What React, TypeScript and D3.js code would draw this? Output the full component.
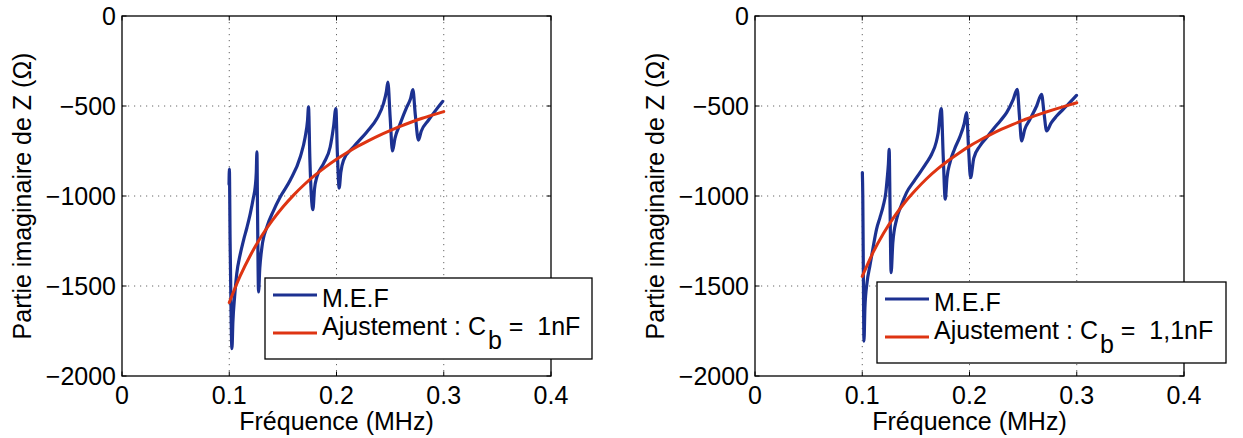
import React from "react";
import * as d3 from "d3";

const xTicks = [0, 0.1, 0.2, 0.3, 0.4];
const yTicks = [0, -500, -1000, -1500, -2000];
const xTickLabels = ["0", "0.1", "0.2", "0.3", "0.4"];
const yTickLabels = ["0", "\u2212500", "\u22121000", "\u22121500", "\u22122000"];

const xLabel = "Fréquence (MHz)";
const yLabel = "Partie imaginaire de Z (Ω)";
const seriesNames = ["M.E.F", "Ajustement : C"];
const capLeft = "1nF";
const capRight = "1,1nF";

// Left panel — M.E.F
const fMefLeft = [0.0998, 0.1001, 0.1008, 0.1018, 0.1025, 0.1034, 0.105, 0.107, 0.11, 0.1133, 0.1165, 0.1196, 0.1225, 0.1242, 0.1252, 0.1258, 0.1264, 0.1273, 0.1285, 0.1305, 0.1351, 0.141, 0.1475, 0.1568, 0.1662, 0.1708, 0.173, 0.1739, 0.1752, 0.178, 0.1795, 0.1817, 0.1879, 0.1941, 0.1972, 0.1994, 0.2008, 0.2025, 0.204, 0.2065, 0.2158, 0.2283, 0.2377, 0.2438, 0.2465, 0.2479, 0.25, 0.2522, 0.2545, 0.2594, 0.2656, 0.269, 0.2712, 0.2735, 0.2764, 0.279, 0.2857, 0.293, 0.299];
const zMefLeft = [-935, -850, -1250, -1700, -1848, -1700, -1560, -1431, -1330, -1246, -1175, -1098, -1010, -950, -870, -755, -1100, -1533, -1400, -1283, -1172, -1085, -1006, -913, -783, -672, -580, -505, -800, -1076, -960, -894, -820, -728, -617, -514, -760, -956, -870, -802, -728, -644, -570, -487, -420, -367, -560, -750, -680, -598, -505, -460, -409, -550, -690, -640, -579, -520, -475];

// Right panel — M.E.F
const fMefRight = [0.1001, 0.1005, 0.101, 0.1016, 0.1025, 0.1045, 0.1071, 0.11, 0.1133, 0.1165, 0.1195, 0.122, 0.1232, 0.1244, 0.1251, 0.1259, 0.1269, 0.1285, 0.132, 0.1365, 0.1413, 0.148, 0.1538, 0.16, 0.1647, 0.169, 0.1708, 0.1737, 0.1755, 0.1774, 0.179, 0.1818, 0.186, 0.1911, 0.195, 0.1973, 0.199, 0.201, 0.204, 0.2097, 0.216, 0.2221, 0.229, 0.2346, 0.2408, 0.2445, 0.2465, 0.2486, 0.2515, 0.2564, 0.2626, 0.2672, 0.2695, 0.2719, 0.276, 0.2812, 0.2905, 0.2998];
const zMefRight = [-870, -1000, -1400, -1806, -1620, -1480, -1389, -1290, -1185, -1120, -1056, -980, -907, -820, -741, -1050, -1426, -1260, -1130, -1050, -981, -920, -870, -815, -768, -700, -648, -514, -780, -1018, -900, -814, -740, -670, -600, -537, -720, -898, -790, -722, -675, -629, -580, -537, -463, -407, -550, -694, -630, -574, -500, -435, -540, -639, -595, -556, -500, -441];

// Fits
const fFit = [0.1, 0.11, 0.12, 0.13, 0.14, 0.15, 0.16, 0.17, 0.18, 0.19, 0.2, 0.21, 0.22, 0.23, 0.24, 0.25, 0.26, 0.27, 0.28, 0.29, 0.3];
const zFitLeft = [-1592, -1447, -1326, -1224, -1137, -1061, -995, -936, -884, -838, -796, -758, -723, -692, -663, -637, -612, -589, -568, -549, -531];
const zFitRight = [-1447, -1315, -1206, -1113, -1033, -965, -904, -851, -804, -762, -723, -689, -658, -629, -603, -579, -556, -536, -517, -499, -482];

const BLUE = "#1c3191";
const RED = "#de3412";
const FONT = "'Liberation Sans', Arial, Helvetica, sans-serif";
const FS = 25;

type PanelProps = {
  x0: number;
  fMef: number[];
  zMef: number[];
  zFit: number[];
  cap: string;
  legend: { x: number; y: number; w: number; h: number };
};

function Panel({ x0, fMef, zMef, zFit, cap, legend }: PanelProps) {
  const top = 16;
  const bottom = 376;
  const width = 429;
  const x = d3.scaleLinear().domain([0, 0.4]).range([x0, x0 + width]);
  const y = d3.scaleLinear().domain([-2000, 0]).range([bottom, top]);
  const line = d3
    .line<[number, number]>()
    .x((d) => x(d[0]))
    .y((d) => y(d[1]))
    .curve(d3.curveMonotoneX);
  const mef = line(fMef.map((f, i) => [f, zMef[i]] as [number, number])) || "";
  const fit = line(fFit.map((f, i) => [f, zFit[i]] as [number, number])) || "";
  const tl = 4.5;
  const lx = legend.x;
  const ly = legend.y;
  return (
    <g fontFamily={FONT} fontSize={FS} fill="#000">
      {/* grid */}
      {xTicks.slice(1, -1).map((t) => (
        <line key={"gx" + t} x1={x(t)} x2={x(t)} y1={top} y2={bottom} stroke="#666" strokeWidth={1} strokeDasharray="1.2 4.8" />
      ))}
      {yTicks.slice(1, -1).map((t) => (
        <line key={"gy" + t} x1={x0} x2={x0 + width} y1={y(t)} y2={y(t)} stroke="#666" strokeWidth={1} strokeDasharray="1.2 4.8" />
      ))}
      {/* tick marks */}
      {xTicks.map((t) => (
        <g key={"tx" + t}>
          <line x1={x(t)} x2={x(t)} y1={bottom} y2={bottom - tl} stroke="#000" strokeWidth={1} />
          <line x1={x(t)} x2={x(t)} y1={top} y2={top + tl} stroke="#000" strokeWidth={1} />
        </g>
      ))}
      {yTicks.map((t) => (
        <g key={"ty" + t}>
          <line x1={x0} x2={x0 + tl} y1={y(t)} y2={y(t)} stroke="#000" strokeWidth={1} />
          <line x1={x0 + width} x2={x0 + width - tl} y1={y(t)} y2={y(t)} stroke="#000" strokeWidth={1} />
        </g>
      ))}
      {/* data */}
      <path d={mef} fill="none" stroke={BLUE} strokeWidth={3.2} strokeLinejoin="round" strokeLinecap="round" />
      <path d={fit} fill="none" stroke={RED} strokeWidth={3} strokeLinejoin="round" strokeLinecap="round" />
      {/* box */}
      <rect x={x0} y={top} width={width} height={bottom - top} fill="none" stroke="#000" strokeWidth={1.3} />
      {/* tick labels */}
      {xTicks.map((t, i) => (
        <text key={"lx" + t} x={x(t)} y={bottom + 28} textAnchor="middle">
          {xTickLabels[i]}
        </text>
      ))}
      {yTicks.map((t, i) => (
        <text key={"ly" + t} x={x0 - 6} y={y(t) + 9} textAnchor="end">
          {yTickLabels[i]}
        </text>
      ))}
      {/* axis labels */}
      <text x={x0 + width / 2} y={430} textAnchor="middle">
        {xLabel}
      </text>
      <text transform={`translate(${x0 - 91},${(top + bottom) / 2}) rotate(-90)`} textAnchor="middle">
        {yLabel}
      </text>
      {/* legend */}
      <rect x={lx} y={ly} width={legend.w} height={legend.h} fill="#fff" stroke="#000" strokeWidth={1.3} />
      <line x1={lx + 8} x2={lx + 52} y1={ly + 17} y2={ly + 17} stroke={BLUE} strokeWidth={3} />
      <line x1={lx + 8} x2={lx + 52} y1={ly + 55} y2={ly + 55} stroke={RED} strokeWidth={3} />
      <text x={lx + 57} y={ly + 28.5}>
        {seriesNames[0]}
      </text>
      <text x={lx + 57} y={ly + 57}>
        {seriesNames[1]}
        <tspan dx={2} dy={14}>b</tspan>
        <tspan dy={-14}>{"\u00A0=\u00A0\u00A0" + cap}</tspan>
      </text>
    </g>
  );
}

export default function App() {
  return (
    <svg
      width={1243}
      height={438}
      viewBox="0 0 1243 438"
      style={{ position: "absolute", left: 0, top: 0, background: "#fff" }}
    >
      <rect x={0} y={0} width={1243} height={438} fill="#fff" />
      <Panel x0={122} fMef={fMefLeft} zMef={zMefLeft} zFit={zFitLeft} cap={capLeft} legend={{ x: 265, y: 278, w: 327, h: 81 }} />
      <Panel x0={755} fMef={fMefRight} zMef={zMefRight} zFit={zFitRight} cap={capRight} legend={{ x: 877, y: 282, w: 349, h: 81 }} />
    </svg>
  );
}
